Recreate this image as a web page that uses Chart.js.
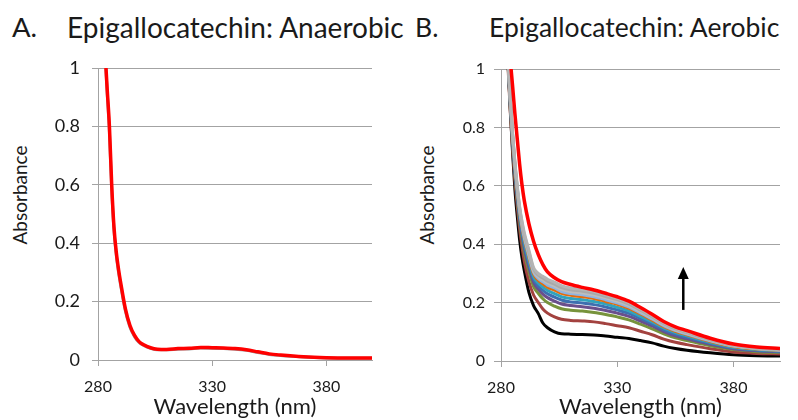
<!DOCTYPE html>
<html>
<head>
<meta charset="utf-8">
<script src="https://cdn.jsdelivr.net/npm/chart.js@4.4.1/dist/chart.umd.min.js"></script>
<style>
  body { margin: 0; background: #fff; width: 798px; height: 420px; position: relative; overflow: hidden; font-family: Lato, sans-serif; color: #1a1a1a; }
  .ttl { position: absolute; top: 12px; font-size: 26.5px; line-height: 30px; white-space: nowrap; }
  .ylab { position: absolute; width: 140px; text-align: center; font-size: 19px; line-height: 22px; transform: rotate(-90deg); white-space: nowrap; }
  .panel { position: absolute; top: 0; }
</style>
</head>
<body>
<div class="ttl" style="left:12px; font-size:27.5px">A.</div>
<div class="ttl" style="left:67px; font-size:28px">Epigallocatechin: Anaerobic</div>
<div class="ttl" style="left:415px">B.</div>
<div class="ttl" style="left:489px">Epigallocatechin: Aerobic</div>
<div class="ylab" style="left:-50px; top:184px">Absorbance</div>
<div class="ylab" style="left:357px; top:184px">Absorbance</div>
<canvas id="chartA" class="panel" style="left:0" width="400" height="420"></canvas>
<canvas id="chartB" class="panel" style="left:400px" width="398" height="420"></canvas>
<script>
// wavelengths (nm) used for every curve
const wavelength = [283,284,285,286,287,288,289,290,292,294,296,298,300,303,306,310,315,320,325,330,335,340,345,350,355,360,370,380,390,400];
const xTicks = [280, 330, 380];
const yTicks = [0, 0.2, 0.4, 0.6, 0.8, 1];

// A. anaerobic - all scans overlap
const anaerobicRed  = [1.07,0.93,0.80,0.60,0.455,0.37,0.31,0.262,0.175,0.118,0.084,0.063,0.052,0.042,0.037,0.036,0.039,0.040,0.043,0.042,0.041,0.039,0.035,0.028,0.021,0.017,0.011,0.008,0.007,0.007];
const anaerobicGrey = [1.06,0.92,0.78,0.585,0.445,0.36,0.3,0.252,0.168,0.112,0.08,0.06,0.05,0.04,0.035,0.035,0.037,0.038,0.041,0.04,0.039,0.037,0.033,0.026,0.019,0.015,0.01,0.007,0.006,0.006];

// B. aerobic - scans over time, black first, red last
const aerBlack  = [1.03,0.86,0.71,0.585,0.495,0.415,0.355,0.31,0.235,0.19,0.163,0.13,0.114,0.10,0.093,0.092,0.091,0.089,0.086,0.081,0.077,0.070,0.062,0.051,0.043,0.037,0.028,0.021,0.018,0.017];
const aerBrown  = [1.012,0.851,0.724,0.617,0.53,0.453,0.393,0.342,0.272,0.226,0.201,0.178,0.164,0.151,0.143,0.139,0.137,0.134,0.128,0.121,0.114,0.102,0.09,0.075,0.064,0.056,0.042,0.031,0.026,0.024];
const aerGreen  = [1.021,0.866,0.742,0.637,0.552,0.477,0.42,0.373,0.306,0.255,0.232,0.213,0.2,0.188,0.179,0.174,0.171,0.166,0.159,0.151,0.141,0.126,0.11,0.093,0.079,0.07,0.052,0.039,0.032,0.029];
const aerPurple = [1.025,0.873,0.75,0.646,0.562,0.488,0.433,0.387,0.321,0.269,0.246,0.229,0.217,0.205,0.195,0.19,0.186,0.181,0.173,0.164,0.153,0.137,0.12,0.101,0.086,0.076,0.057,0.042,0.035,0.031];
const aerBlue   = [1.028,0.879,0.756,0.653,0.57,0.497,0.443,0.398,0.334,0.28,0.257,0.242,0.23,0.219,0.209,0.202,0.199,0.193,0.185,0.175,0.163,0.146,0.127,0.107,0.092,0.081,0.061,0.045,0.037,0.033];
const aerTeal   = [1.031,0.884,0.762,0.659,0.577,0.505,0.451,0.408,0.344,0.289,0.267,0.253,0.242,0.231,0.22,0.214,0.21,0.204,0.195,0.184,0.172,0.153,0.134,0.113,0.097,0.086,0.064,0.047,0.039,0.035];
const aerOrange = [1.034,0.889,0.767,0.666,0.584,0.512,0.46,0.418,0.355,0.298,0.277,0.264,0.253,0.243,0.232,0.225,0.22,0.214,0.204,0.194,0.18,0.161,0.14,0.118,0.102,0.09,0.067,0.05,0.041,0.036];
const aerSky    = [1.035,0.892,0.77,0.669,0.588,0.517,0.465,0.423,0.361,0.304,0.283,0.271,0.26,0.25,0.238,0.231,0.227,0.22,0.21,0.199,0.185,0.165,0.144,0.121,0.105,0.092,0.069,0.051,0.042,0.037];
const aerGrey1  = [1.037,0.894,0.774,0.673,0.592,0.521,0.47,0.429,0.368,0.309,0.289,0.277,0.267,0.256,0.245,0.237,0.233,0.226,0.216,0.204,0.19,0.169,0.148,0.125,0.107,0.095,0.071,0.052,0.043,0.038];
const aerGrey2  = [1.038,0.897,0.777,0.676,0.596,0.526,0.475,0.434,0.374,0.315,0.294,0.284,0.273,0.263,0.251,0.244,0.239,0.232,0.221,0.21,0.195,0.174,0.151,0.128,0.11,0.097,0.073,0.054,0.044,0.039];
const aerGrey3  = [1.04,0.90,0.78,0.68,0.60,0.53,0.48,0.44,0.38,0.32,0.30,0.29,0.28,0.27,0.258,0.25,0.245,0.238,0.227,0.215,0.2,0.178,0.155,0.131,0.113,0.1,0.075,0.055,0.045,0.04];
const aerRed    = [1.12,1.03,0.94,0.845,0.76,0.675,0.605,0.55,0.47,0.41,0.365,0.33,0.305,0.285,0.272,0.262,0.252,0.243,0.232,0.22,0.205,0.183,0.16,0.135,0.117,0.104,0.078,0.058,0.048,0.043];

// arrow: wavelength, from absorbance, to absorbance
const arrowAt = [358.4, 0.175, 0.322];

Chart.defaults.font.family = 'Lato, sans-serif';
Chart.defaults.color = '#1a1a1a';

const gridColor = '#a3a3a3';

function pts(arr) {
  return wavelength.map((w, i) => ({ x: w, y: arr[i] }));
}

function line(arr, color, width) {
  return {
    data: pts(arr),
    borderColor: color,
    borderWidth: width,
    pointRadius: 0,
    cubicInterpolationMode: 'monotone',
    fill: false
  };
}

function options(p) {
  return {
    responsive: false,
    animation: false,
    devicePixelRatio: 1,
    layout: { padding: { top: p.top, right: p.right, left: 0, bottom: 0 } },
    plugins: { legend: { display: false }, tooltip: { enabled: false } },
    scales: {
      x: {
        type: 'linear', min: 280, max: 400,
        afterBuildTicks: s => { s.ticks = xTicks.map(v => ({ value: v })); },
        afterFit: s => { s.height = p.xh; },
        grid: { drawOnChartArea: false, drawTicks: true, tickLength: 6, color: gridColor },
        border: { display: true, color: gridColor },
        ticks: { font: { size: 16 }, padding: 11, maxRotation: 0, callback: v => String(v) },
        title: { display: true, text: 'Wavelength (nm)', font: { size: 22 }, padding: { top: 0, bottom: 0 } }
      },
      y: {
        min: 0, max: 1,
        afterBuildTicks: s => { s.ticks = yTicks.map(v => ({ value: v })); },
        afterFit: s => { s.width = p.yw; },
        grid: { color: gridColor, tickLength: p.tl },
        border: { display: true, color: gridColor },
        ticks: { font: { size: p.yfont }, padding: p.ypad, callback: v => String(v) }
      }
    }
  };
}

new Chart(document.getElementById('chartA'), {
  type: 'line',
  data: {
    datasets: [
      line(anaerobicRed, '#ff0000', 3.5),
      line(anaerobicGrey, '#9a9a9a', 3)
    ]
  },
  options: options({ top: 68, right: 28, xh: 60, yw: 98, tl: 6, ypad: 12, yfont: 18 })
});

const arrowPlugin = {
  id: 'arrow',
  afterDatasetsDraw(chart) {
    const { ctx, scales } = chart;
    const x = scales.x.getPixelForValue(arrowAt[0]);
    const y0 = scales.y.getPixelForValue(arrowAt[1]);
    const y1 = scales.y.getPixelForValue(arrowAt[2]);
    ctx.save();
    ctx.strokeStyle = '#000';
    ctx.fillStyle = '#000';
    ctx.lineWidth = 2.5;
    ctx.beginPath();
    ctx.moveTo(x, y0);
    ctx.lineTo(x, y1 + 8);
    ctx.stroke();
    ctx.beginPath();
    ctx.moveTo(x, y1);
    ctx.lineTo(x - 5.5, y1 + 12);
    ctx.lineTo(x + 5.5, y1 + 12);
    ctx.closePath();
    ctx.fill();
    ctx.restore();
  }
};

// first dataset is drawn on top, so red goes first and black last
new Chart(document.getElementById('chartB'), {
  type: 'line',
  data: {
    datasets: [
      line(aerRed, '#ff0000', 3.5),
      line(aerGrey3, '#b4b4b4', 3),
      line(aerGrey2, '#a9a9a9', 3),
      line(aerGrey1, '#bdbdbd', 3),
      line(aerSky, '#8eb4e3', 3),
      line(aerOrange, '#e46c0a', 3),
      line(aerTeal, '#31a3bd', 3),
      line(aerBlue, '#3d6fb0', 3),
      line(aerPurple, '#6a4f8c', 3),
      line(aerGreen, '#77933c', 3),
      line(aerBrown, '#a3423f', 3),
      line(aerBlack, '#000000', 3)
    ]
  },
  options: options({ top: 69, right: 18, xh: 59, yw: 101, tl: 7, ypad: 9, yfont: 16 }),
  plugins: [arrowPlugin]
});
</script>
</body>
</html>
